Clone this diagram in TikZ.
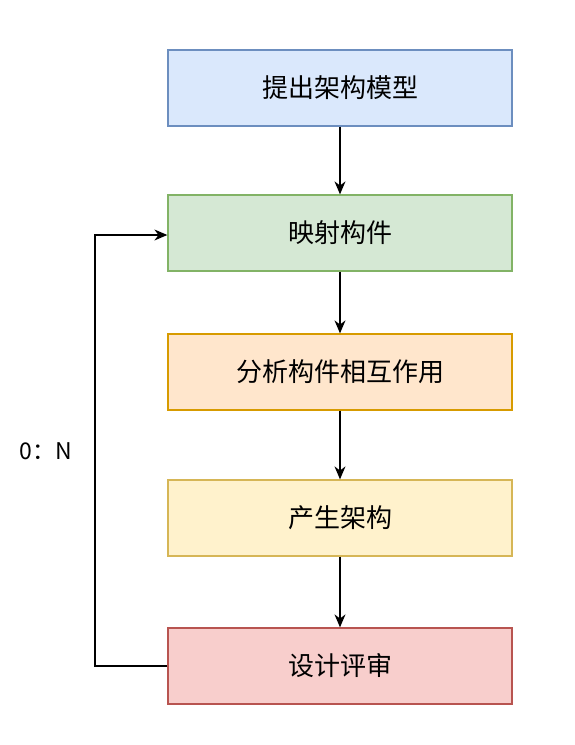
\documentclass[tikz,border=0pt]{standalone}
\usepackage{fontspec}
\setmainfont{Noto Sans CJK SC}
\usetikzlibrary{arrows.meta}
\definecolor{bfill}{HTML}{DAE8FC}\definecolor{bline}{HTML}{6C8EBF}
\definecolor{gfill}{HTML}{D5E8D4}\definecolor{gline}{HTML}{82B366}
\definecolor{ofill}{HTML}{FFE6CC}\definecolor{oline}{HTML}{D79B00}
\definecolor{yfill}{HTML}{FFF2CC}\definecolor{yline}{HTML}{D6B656}
\definecolor{rfill}{HTML}{F8CECC}\definecolor{rline}{HTML}{B85450}
\tikzset{
  stepbox/.style={draw, line width=1.3pt, minimum width=344pt, minimum height=76pt, inner sep=0pt, font=\fontsize{26}{31}\selectfont},
  conn/.style={line width=1.3pt, -{Stealth[length=13pt,width=11pt]}}
}
\begin{document}
\begin{tikzpicture}[x=1pt,y=-1pt]
\useasboundingbox (0,0) rectangle (574,745);
\node[stepbox, fill=bfill, draw=bline] (a) at (340,88) {提出架构模型};
\node[stepbox, fill=gfill, draw=gline] (b) at (340,233) {映射构件};
\node[stepbox, fill=ofill, draw=oline] (c) at (340,372) {分析构件相互作用};
\node[stepbox, fill=yfill, draw=yline] (d) at (340,518) {产生架构};
\node[stepbox, fill=rfill, draw=rline] (e) at (340,666) {设计评审};
\draw[conn] (a) -- (b);
\draw[conn] (b) -- (c);
\draw[conn] (c) -- (d);
\draw[conn] (d) -- (e);
\coordinate (lb) at (95,666);
\coordinate (lt) at (95,235);
\draw[conn] (e.west) -- (lb) -- (lt) -- (b.west |- lt);
\node[font=\fontsize{23}{27}\selectfont, anchor=center] (lbl) at (46,451) {0：N};
\end{tikzpicture}
\end{document}
